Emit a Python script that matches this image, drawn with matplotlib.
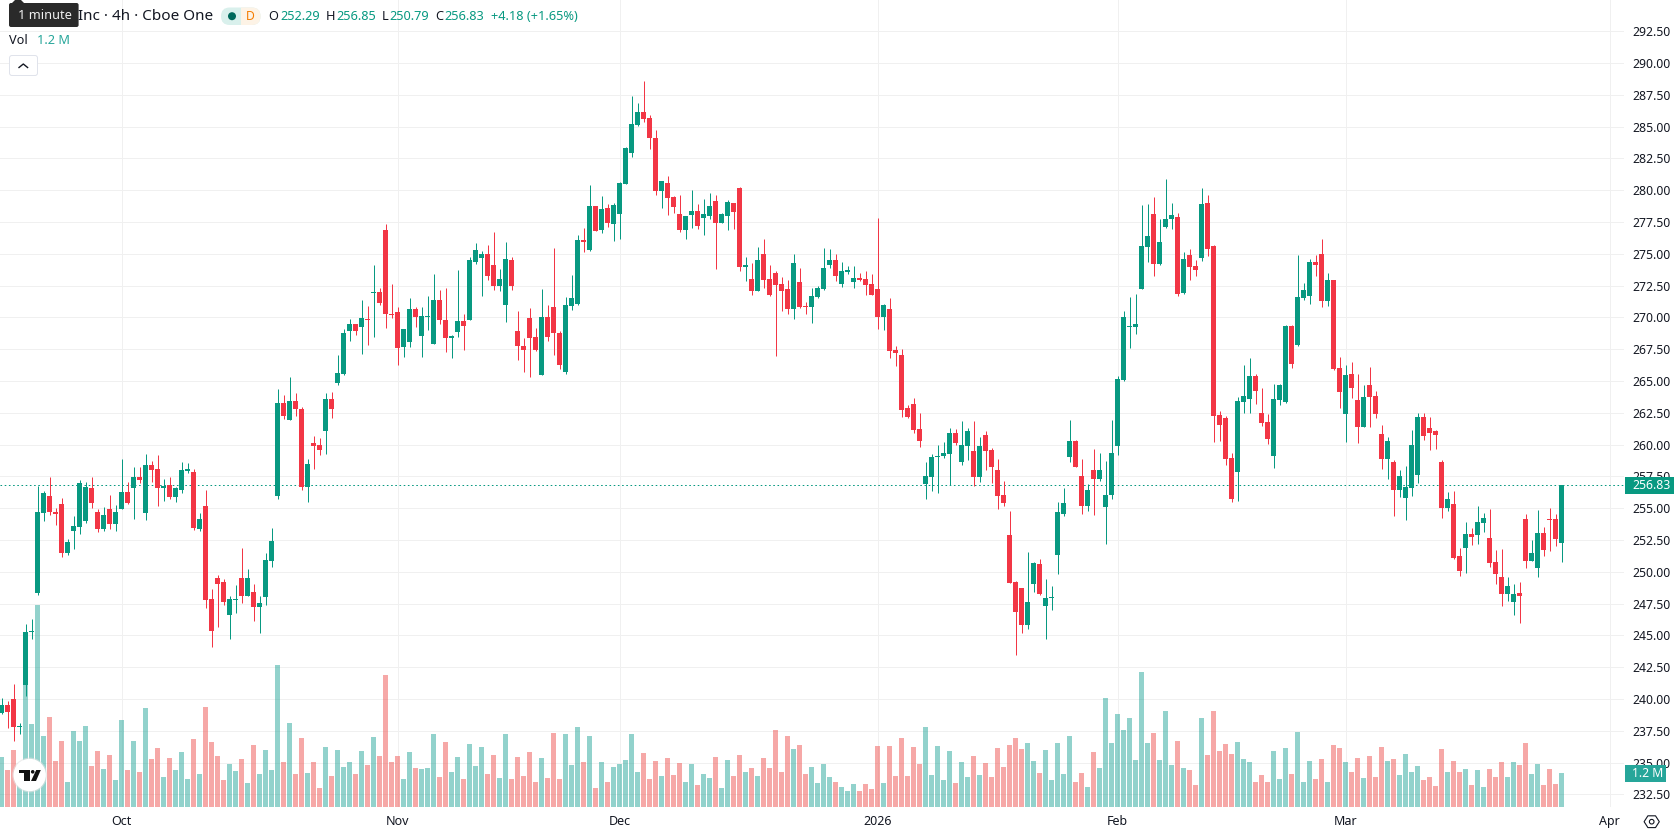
import numpy as np
import matplotlib
matplotlib.use("Agg")
import matplotlib.pyplot as plt
from matplotlib.patches import Circle, FancyBboxPatch, Polygon, Rectangle

plt.rcParams["font.family"] = ["Noto Sans", "DejaVu Sans"]

# 4h candles, Cboe One
opens = [
    238.87,239.50,240.00,237.80,241.10,245.29,248.30,254.59,255.92,254.67,
    255.30,251.44,253.17,253.49,253.96,256.55,254.67,253.33,254.90,253.72,
    254.90,256.24,256.55,257.42,254.59,258.36,258.05,256.55,256.79,255.85,
    256.47,257.89,257.81,253.33,255.14,247.83,249.48,249.16,246.57,247.75,
    249.48,248.06,248.38,247.20,247.98,250.81,255.92,263.24,261.90,263.39,
    262.76,256.63,260.09,259.93,261.03,263.58,264.84,265.55,268.93,269.48,
    269.24,269.87,271.91,271.99,276.87,270.26,270.42,267.67,268.06,270.66,
    268.53,270.03,267.90,271.36,269.79,268.38,268.85,269.71,269.79,274.35,
    274.67,274.98,274.12,272.46,270.97,274.51,268.93,267.75,269.95,268.46,
    265.47,270.03,270.81,268.77,265.70,270.89,271.05,276.08,275.29,278.75,
    276.87,278.60,277.34,278.13,280.49,282.93,285.13,286.15,285.68,284.10,
    279.94,280.57,279.47,278.13,276.87,278.05,278.37,277.82,277.97,279.15,
    277.42,277.97,278.99,280.17,273.96,273.02,272.08,274.98,273.02,273.49,
    272.63,272.23,270.66,272.78,270.90,270.82,271.60,272.23,274.12,274.51,
    272.63,273.57,272.78,273.10,273.02,272.63,272.23,270.03,270.66,267.44,
    267.05,262.88,263.19,261.23,256.90,257.45,259.03,259.11,259.26,260.91,
    258.63,259.89,259.50,257.45,260.76,259.58,258.00,256.04,252.89,249.20,
    248.73,245.82,249.04,250.62,247.31,247.94,251.32,254.55,259.03,260.28,
    257.53,255.17,258.00,257.30,255.10,256.04,259.89,265.08,269.25,269.25,
    272.23,275.54,278.13,274.20,277.11,277.74,277.90,271.92,274.91,274.04,
    274.67,279.00,275.62,262.33,262.09,258.95,257.85,263.35,263.59,265.40,
    262.49,261.78,259.11,263.51,263.35,269.33,267.83,271.53,271.68,274.36,
    274.99,271.29,272.94,266.02,262.41,265.55,263.51,261.39,264.69,263.82,
    260.84,258.87,258.63,256.43,255.80,256.59,257.61,262.17,261.31,261.07,
    258.63,255.02,255.33,251.24,251.87,252.97,252.89,253.84,252.66,250.77,
    249.59,248.26,247.63,248.33,254.15,250.85,250.30,253.05,254.15,254.15,
    252.29,
]
highs = [
    240.05,239.81,241.18,238.08,245.89,246.29,256.71,256.32,257.42,254.98,
    255.77,252.54,254.35,257.18,257.03,257.42,254.90,255.06,256.00,255.22,
    258.83,257.03,258.20,258.20,259.30,258.68,259.15,257.26,257.42,256.63,
    258.60,258.52,258.05,254.59,256.47,248.61,249.71,249.40,248.06,248.93,
    251.84,250.19,249.08,248.06,251.44,253.41,264.37,263.90,265.31,264.05,
    262.92,258.83,260.64,260.48,264.05,264.13,267.04,269.08,269.87,269.48,
    271.36,270.89,274.12,272.31,277.34,272.62,270.81,269.08,271.52,270.81,
    270.81,271.68,273.41,272.15,272.31,268.61,273.72,270.26,274.74,275.85,
    275.22,275.69,276.71,273.80,275.92,274.74,270.50,268.38,270.74,269.16,
    272.23,270.97,275.45,268.93,271.60,273.33,276.47,277.02,280.40,278.75,
    279.54,278.92,278.99,280.65,283.40,287.41,286.86,288.59,285.91,284.73,
    280.72,281.12,279.54,279.62,277.97,280.02,278.92,279.31,279.78,279.62,
    278.21,279.23,278.99,280.25,274.75,274.28,275.54,276.16,274.12,273.65,
    273.18,272.94,274.98,273.88,271.21,272.31,272.47,275.46,275.38,274.98,
    274.36,274.04,274.04,273.49,273.65,273.41,277.82,271.05,271.53,267.75,
    267.52,263.11,263.67,262.49,258.63,259.26,259.97,260.21,261.31,261.23,
    261.86,261.31,261.86,260.60,261.07,259.73,258.87,257.14,254.78,249.28,
    248.73,251.56,250.77,251.01,249.44,248.89,255.49,256.59,261.94,260.36,
    258.87,256.90,259.66,259.34,258.71,261.94,265.39,270.50,271.61,271.84,
    278.84,278.92,279.47,277.74,280.88,279.00,278.21,275.14,275.38,274.51,
    280.17,279.62,275.69,262.64,262.25,259.34,263.74,266.26,266.81,265.55,
    264.45,262.41,264.77,264.77,269.40,269.40,274.91,272.71,274.59,274.91,
    276.17,273.49,272.94,266.89,266.26,266.50,265.55,264.69,266.10,264.22,
    261.54,260.60,258.79,258.01,258.32,261.15,262.49,262.49,262.17,261.15,
    258.79,256.28,256.35,251.87,253.92,253.45,255.17,254.62,254.94,251.72,
    251.79,249.59,249.04,249.20,254.55,252.50,254.86,253.52,255.02,254.55,
    256.85,
]
lows = [
    238.82,237.72,236.70,237.25,240.23,244.71,248.14,253.96,254.43,253.64,
    251.13,251.29,251.76,252.94,253.80,254.98,253.09,253.17,253.33,253.17,
    254.90,255.30,254.19,256.95,254.04,257.03,255.14,255.53,255.69,255.45,
    256.16,257.73,253.25,253.17,247.12,244.05,245.63,247.36,244.68,246.73,
    247.51,248.06,246.10,245.15,247.36,250.34,255.69,261.98,261.90,262.21,
    256.40,255.45,258.05,259.15,259.23,262.13,264.68,265.47,268.14,268.61,
    267.12,267.83,268.46,270.97,269.16,269.95,266.25,266.88,267.67,269.24,
    266.88,269.01,267.90,269.48,267.28,266.80,268.46,267.43,269.79,274.19,
    271.68,272.94,272.15,272.07,269.63,272.15,266.65,265.70,265.31,267.35,
    265.47,268.14,267.04,265.94,265.55,270.58,270.97,275.14,275.22,276.79,
    276.64,277.11,276.01,276.16,280.49,282.61,285.05,285.36,283.24,279.62,
    278.60,278.05,278.21,276.71,276.16,277.03,276.95,276.48,277.74,273.81,
    277.42,276.87,276.95,273.65,272.86,271.76,272.08,272.31,271.68,266.97,
    270.50,270.27,269.87,270.74,270.27,269.56,271.53,272.15,273.88,272.86,
    272.39,273.41,272.31,272.86,271.76,271.76,269.09,269.01,266.81,266.18,
    262.17,262.09,260.91,259.81,255.72,256.35,256.20,258.95,256.80,259.97,
    258.40,258.79,256.75,257.06,258.00,256.98,254.94,255.17,249.12,243.46,
    245.19,245.50,248.41,248.18,244.72,247.00,249.83,254.39,258.63,258.24,
    254.55,254.78,254.47,257.14,252.19,255.72,259.18,265.00,267.60,268.70,
    272.23,274.36,273.26,274.12,277.03,276.95,271.68,271.84,272.94,273.26,
    274.44,274.83,260.21,260.29,258.40,255.49,255.57,262.49,262.49,263.19,
    261.46,260.05,258.16,263.12,263.27,266.02,267.75,271.37,271.06,273.26,
    270.82,270.90,265.87,262.88,260.21,263.67,260.13,261.39,261.39,262.09,
    258.08,257.30,254.39,255.88,254.07,255.96,256.98,260.36,259.58,259.66,
    254.23,254.78,251.01,249.67,249.91,252.11,252.19,253.13,250.38,249.04,
    247.31,247.71,246.61,245.98,250.30,250.85,249.59,251.24,251.64,252.03,
    250.79,
]
closes = [
    239.50,238.97,237.80,237.83,245.26,245.34,254.67,256.16,254.67,254.51,
    251.44,252.31,253.57,256.95,256.63,255.37,253.33,254.43,253.72,254.67,
    256.24,255.37,257.42,257.18,258.36,257.97,256.55,256.71,255.85,256.55,
    257.97,258.05,253.41,254.12,247.75,245.31,249.08,247.59,247.83,247.83,
    248.06,249.48,247.20,247.51,250.89,252.39,263.24,262.21,263.39,262.76,
    256.63,258.44,259.86,259.54,263.58,262.76,265.62,268.77,269.48,268.93,
    269.95,269.79,271.99,271.13,270.26,270.18,267.59,269.08,270.66,270.03,
    270.11,270.11,271.36,269.79,268.38,268.53,269.71,269.32,274.51,275.29,
    274.98,273.25,272.46,273.01,274.59,272.46,267.75,267.43,268.38,267.43,
    270.03,268.46,268.77,266.25,270.97,271.52,276.08,275.92,278.75,276.79,
    278.52,277.42,278.84,280.57,283.32,285.20,286.15,285.60,284.10,279.94,
    280.72,279.39,278.68,276.87,277.97,278.37,277.19,278.13,278.76,277.42,
    278.13,279.07,278.29,273.96,274.12,272.08,274.51,272.94,271.76,272.55,
    272.08,270.66,274.28,270.82,270.82,271.68,272.31,273.88,274.51,273.26,
    273.65,273.73,273.10,272.94,272.55,271.76,270.03,270.98,267.36,267.20,
    262.72,262.17,261.15,260.28,257.53,259.03,259.11,259.34,260.91,260.13,
    259.97,261.07,257.45,259.89,259.50,258.24,255.96,255.41,249.12,246.84,
    245.82,247.63,250.69,248.26,247.94,248.02,254.70,255.41,260.28,258.24,
    255.17,256.43,257.30,258.00,256.04,259.34,265.16,270.03,269.33,269.48,
    275.62,276.40,274.20,275.93,277.74,278.05,271.84,274.59,273.96,273.73,
    278.92,275.38,262.25,261.54,258.87,255.73,263.43,263.82,265.40,264.22,
    261.70,260.44,263.59,264.69,269.33,266.34,271.61,272.16,274.36,274.12,
    271.29,272.94,265.95,264.14,265.47,264.45,261.39,263.74,263.74,262.41,
    258.87,260.29,256.43,257.53,256.67,259.97,262.17,260.68,260.91,260.76,
    255.02,255.73,251.09,250.06,252.97,252.74,253.92,254.23,250.69,249.83,
    248.26,248.89,248.26,248.10,250.85,251.48,253.05,251.72,254.07,252.58,
    256.83,
]
# volume in millions
volumes = [
    1.76,1.31,2.01,1.19,4.95,2.93,7.13,2.51,3.18,1.62,
    2.33,0.88,2.68,2.33,2.86,1.45,1.98,1.34,1.84,0.95,
    3.07,1.31,2.33,1.24,3.49,1.69,2.08,1.06,1.73,1.31,
    1.94,0.99,2.40,1.16,3.53,2.29,1.80,0.95,1.52,1.27,
    1.69,0.85,2.19,1.16,2.01,1.31,5.01,1.59,2.96,1.16,
    2.44,1.20,1.59,0.67,2.12,1.09,2.01,1.41,1.59,1.16,
    1.98,1.48,2.47,1.80,4.66,1.59,1.80,0.99,1.94,1.38,
    1.34,1.38,2.58,1.06,2.29,1.24,1.76,0.99,2.22,1.45,
    2.12,1.16,1.84,1.02,2.58,0.99,1.76,1.09,1.94,0.88,
    1.73,1.02,2.61,0.99,2.58,1.48,2.82,1.59,2.51,0.67,
    1.59,0.88,1.41,1.52,1.66,2.58,1.24,1.91,0.99,1.62,
    1.09,1.73,1.13,1.55,0.88,1.52,0.78,1.16,1.02,1.76,
    0.67,1.66,1.09,1.84,1.24,1.38,1.09,1.73,1.38,2.72,
    1.24,2.51,2.05,2.19,1.16,1.41,0.85,1.52,1.06,0.88,
    0.71,0.56,0.81,0.56,0.81,0.64,2.15,0.85,2.15,1.09,
    2.44,1.09,2.12,1.52,2.82,1.13,2.15,0.95,1.98,0.85,
    1.59,1.06,1.80,1.13,1.55,1.06,2.08,1.41,2.19,2.44,
    2.05,2.26,1.62,1.20,2.01,0.95,2.26,1.16,2.51,0.88,
    1.20,0.71,1.94,1.38,3.85,2.26,3.28,2.72,3.14,1.66,
    4.76,2.26,2.61,1.66,3.39,1.48,2.33,1.38,1.31,0.78,
    3.14,1.84,3.39,1.98,2.22,1.87,2.29,1.69,1.59,0.88,
    1.13,0.88,1.98,0.99,2.08,1.16,2.65,0.88,1.62,0.99,
    1.69,0.88,2.19,2.08,1.59,1.24,1.73,1.02,1.80,1.06,
    2.12,1.62,1.69,1.13,1.87,1.24,1.45,0.95,1.06,0.74,
    2.05,1.24,1.62,1.24,1.34,0.78,1.31,0.71,1.34,1.06,
    1.59,1.06,1.59,1.48,2.26,1.16,1.52,0.78,1.34,0.81,
    1.20,
]
month_bars = [20, 66, 103, 146, 186, 224, 268]
month_labels = ["Oct", "Nov", "Dec", "2026", "Feb", "Mar", "Apr"]
price_ticks = [232.5 + 2.5 * k for k in range(25)]

UP = "#089981"
DOWN = "#F23645"
VOL_UP = "#26a69a"
VOL_DOWN = "#ef5350"
GRID = "#f0f0f0"
INK = "#131722"

W, H = 1678, 835
PANE_W, PANE_H = 1624, 807
PX = 0.72  # one pixel in points at dpi 100

o, h, l, c = map(np.array, (opens, highs, lows, closes))
v = np.array(volumes)
x = np.arange(len(c))
up = c >= o

fig = plt.figure(figsize=(W / 100, H / 100), dpi=100, facecolor="white")
rect = [0, 1 - PANE_H / H, PANE_W / W, PANE_H / H]
xlim = (-0.25, (PANE_W - 1.5) / 6)
ylim = (232.5 + (794.4 - PANE_H) / 12.72, 232.5 + 794.4 / 12.72)

# bottom layer only has the grid, so the volume bars sit on top of it
ax_grid = fig.add_axes(rect, zorder=1)
ax_grid.set_xlim(xlim)
ax_grid.set_ylim(ylim)
ax_grid.set_xticks(month_bars)
ax_grid.set_yticks(price_ticks)
ax_grid.grid(True, color=GRID, linewidth=PX)
ax_grid.tick_params(length=0, labelbottom=False, labelleft=False)
for s in ax_grid.spines.values():
    s.set_visible(False)

# volume pane
ax_vol = fig.add_axes(rect, zorder=2)
ax_vol.patch.set_visible(False)
ax_vol.set_xlim(xlim)
ax_vol.set_ylim(0, PANE_H / 28.33)
ax_vol.axis("off")
ax_vol.bar(x, v, width=5 / 6, color=[VOL_UP if u else VOL_DOWN for u in up],
           alpha=0.5, linewidth=0)

# candles and the price scale
ax = fig.add_axes(rect, zorder=3)
ax.patch.set_visible(False)
ax.set_xlim(xlim)
ax.set_ylim(ylim)
colors = [UP if u else DOWN for u in up]
ax.axhline(c[-1], color=UP, linewidth=PX, linestyle=(0, (1.6, 2.6)), zorder=1, snap=True)
ax.vlines(x, l, h, colors=colors, linewidth=PX, zorder=2)
bottoms = np.minimum(o, c)
heights = np.maximum(np.abs(c - o), 0.08)
ax.bar(x, heights, bottom=bottoms, width=5 / 6, color=colors, linewidth=0, zorder=3)

ax.yaxis.tick_right()
ax.set_yticks(price_ticks)
ax.set_yticklabels([f"{p:.2f}" for p in price_ticks])
ax.set_xticks(month_bars)
ax.set_xticklabels(month_labels)
ax.tick_params(axis="y", length=0, pad=6, labelsize=8.8, labelcolor=INK)
ax.tick_params(axis="x", length=0, pad=6, labelsize=9.0, labelcolor=INK)
ax.get_xticklabels()[3].set_fontweight("bold")
for s in ax.spines.values():
    s.set_visible(False)

# overlay in screen pixels for the header, badges and logo
ui = fig.add_axes([0, 0, 1, 1], zorder=4)
ui.set_xlim(0, W)
ui.set_ylim(H, 0)
ui.axis("off")


def label(px, py, txt, color=INK, size=9.2, **kw):
    ui.text(px, py, txt, color=color, fontsize=size, va="center", ha=kw.pop("ha", "left"), **kw)


# last price and volume tags on the scale
ui.add_patch(Rectangle((1625, 477), 49, 17, facecolor=UP, linewidth=0))
label(1632, 485.3, f"{c[-1]:.2f}", color="white", size=8.8)
ui.add_patch(Rectangle((1625, 765), 41, 17, facecolor=VOL_UP, linewidth=0))
label(1632, 773.3, f"{v[-1]:.1f} M", color="white", size=8.8)

# header
label(77.5, 16, "Inc · 4h · Cboe One", size=11.0)
pill = FancyBboxPatch((221, 7.5), 39.5, 17.5, boxstyle="round,pad=0,rounding_size=8.7",
                      facecolor="#d9f0ec", edgecolor="none")
ui.add_patch(pill)
right_half = Rectangle((241, 7), 20, 19, facecolor="#fdf3e6", linewidth=0)
ui.add_patch(right_half)
right_half.set_clip_path(pill)
ui.add_patch(Circle((232, 16.2), 4.0, facecolor="#00695c", linewidth=0))
label(250, 16, "D", color="#f57c00", size=8.8, ha="center", fontweight="bold")

for px, txt in [(268.4, "O"), (325.7, "H"), (381.8, "L"), (435.7, "C")]:
    label(px, 16.3, txt)
for px, txt in [(280.4, f"{o[-1]:.2f}"), (336, f"{h[-1]:.2f}"), (389.6, f"{l[-1]:.2f}"),
                (444.6, f"{c[-1]:.2f}"), (491, "+4.18 (+1.65%)")]:
    label(px, 16.3, txt, color=UP)

label(8.9, 40.5, "Vol")
label(37, 40.5, f"{v[-1]:.1f} M", color=VOL_UP)

# collapse button
ui.add_patch(FancyBboxPatch((9.5, 55.5), 28, 20, boxstyle="round,pad=0,rounding_size=2.5",
                            facecolor="white", edgecolor="#e0e3eb", linewidth=PX))
ui.plot([19, 23.3, 27.6], [67.5, 64, 67.5], color=INK, linewidth=1.0)

# tooltip
ui.add_patch(Polygon([[11, 4], [15, 0], [21, 0], [25, 4]], facecolor="#2a2a2a", linewidth=0))
ui.add_patch(FancyBboxPatch((9, 3), 69.6, 24, boxstyle="round,pad=0,rounding_size=2",
                            facecolor="#2a2a2a", edgecolor="none"))
label(17.6, 15.5, "1 minute", color="#f0f0f0", size=9.2)

# logo badge
ui.add_patch(Circle((29.7, 775), 17.4, facecolor="#e4e4e4", alpha=0.6, linewidth=0))
ui.add_patch(Circle((29.7, 775), 16.2, facecolor="white", linewidth=0))
ui.add_patch(Polygon([[19, 770], [30, 770], [30, 781], [24.3, 781], [24.3, 773.4], [19, 773.4]],
                     facecolor="#111111", linewidth=0))
ui.add_patch(Circle((32.7, 771.8), 1.8, facecolor="#111111", linewidth=0))
ui.add_patch(Polygon([[36.2, 770], [40.8, 770], [36, 781], [31, 781]],
                     facecolor="#111111", linewidth=0))

# settings hexagon next to the time scale
hex_angles = np.deg2rad(np.arange(0, 360, 60))
ui.add_patch(Polygon(np.c_[1651.7 + 7.6 * np.cos(hex_angles), 821.7 + 6.8 * np.sin(hex_angles)],
                     closed=True, facecolor="none", edgecolor=INK, linewidth=0.8))
ui.add_patch(Circle((1651.7, 821.7), 2.3, facecolor="none", edgecolor=INK, linewidth=0.8))

fig.savefig("out.png", dpi=100)
